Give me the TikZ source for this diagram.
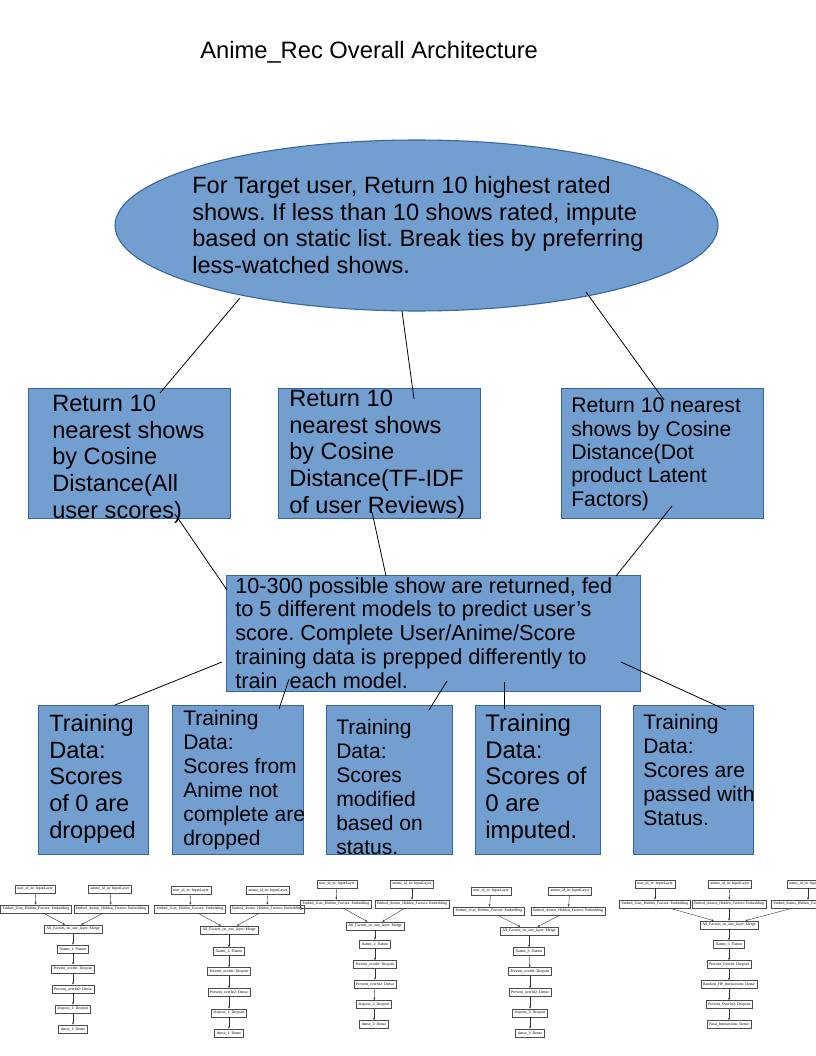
\documentclass[tikz,border=0pt]{standalone}
\usepackage{fontspec}
\setmainfont{Liberation Sans}
\newfontfamily\tinyserif{Liberation Serif}
\usetikzlibrary{shapes.geometric,arrows.meta}
\definecolor{lofill}{HTML}{729FCF}
\definecolor{loline}{HTML}{3465A4}
\frenchspacing
\tikzset{
  bluebox/.style={fill=lofill, draw=loline, line width=0.8, inner sep=0, anchor=north west},
  conn/.style={draw=black, line width=0.6},
  txt/.style={anchor=north west, inner sep=0, align=left, text=black},
  fbig/.style={font=\fontsize{17.7}{19.95}\selectfont},
  fmid/.style={font=\fontsize{15.8}{18}\selectfont},
  tbox/.style={draw=black!70, line width=0.3, inner xsep=1.6, inner ysep=0, minimum height=6.2, font=\tinyserif\fontsize{2.9}{3}\selectfont},
  tarr/.style={draw=black!80, line width=0.3, -{Stealth[length=1.8,width=1.5]}},
}
\begin{document}
\begin{tikzpicture}[x=0.75pt,y=-0.75pt]
\useasboundingbox (0,0) rectangle (816,1056);
\fill[white] (0,0) rectangle (816,1056);

% title
\node[anchor=base west, inner sep=0, font=\fontsize{17.8}{20}\selectfont] (title) at (200,58.5) {Anime\_Rec Overall Architecture};

% ellipse
\node[ellipse, fill=lofill, draw=loline, line width=0.8, minimum width=603*0.75pt, minimum height=171*0.75pt, inner sep=0] (ell) at (416.5,225.5) {};
\node[txt, fbig] (elltxt) at (192,174.9) {\strut For Target user, Return 10 highest rated\\shows. If less than 10 shows rated, impute\\based on static list. Break ties by preferring\\less-watched shows.};

% second row boxes
\node[bluebox, minimum width=202*0.75pt, minimum height=130*0.75pt] (boxA) at (28,388) {};
\node[bluebox, minimum width=202*0.75pt, minimum height=130*0.75pt] (boxB) at (278,388) {};
\node[bluebox, minimum width=202*0.75pt, minimum height=130*0.75pt] (boxC) at (561,388) {};
\node[txt, fbig] (txtA) at (52,392.9) {\strut Return 10\\nearest shows\\by Cosine\\Distance(All\\user scores)};
\node[txt, fbig] (txtB) at (289,387.9) {\strut Return 10\\nearest shows\\by Cosine\\Distance(TF-IDF\\of user Reviews)};
\node[txt, font=\fontsize{15.9}{17.5}\selectfont] (txtC) at (571,396.3) {\strut Return 10 nearest\\shows by Cosine\\Distance(Dot\\product Latent\\Factors)};

% middle box
\node[bluebox, minimum width=414*0.75pt, minimum height=116*0.75pt] (boxD) at (226,575) {};
\node[txt, font=\fontsize{16.3}{17.85}\selectfont] (txtD) at (235,576.1) {\strut 10-300 possible show are returned, fed\\to 5 different models to predict user’s\\score. Complete User/Anime/Score\\training data is prepped differently to\\train\ \ each model.};

% bottom boxes
\node[bluebox, minimum width=110*0.75pt, minimum height=149*0.75pt] (E1) at (38,705) {};
\node[bluebox, minimum width=131*0.75pt, minimum height=149*0.75pt] (E2) at (172,705) {};
\node[bluebox, minimum width=126*0.75pt, minimum height=149*0.75pt] (E3) at (326,705) {};
\node[bluebox, minimum width=125*0.75pt, minimum height=149*0.75pt] (E4) at (475,705) {};
\node[bluebox, minimum width=120*0.75pt, minimum height=149*0.75pt] (E5) at (633,705) {};
\node[txt, fbig] (tE1) at (49,712.9) {\strut Training\\Data:\\Scores\\of 0 are\\dropped};
\node[txt, fmid] (tE2) at (183,708.7) {\strut Training\\Data:\\Scores from\\Anime not\\complete are\\dropped};
\node[txt, fmid] (tE3) at (336,717.7) {\strut Training\\Data:\\Scores\\modified\\based on\\status.};
\node[txt, font=\fontsize{18}{19.95}\selectfont] (tE4) at (485,712.9) {\strut Training\\Data:\\Scores of\\0 are\\imputed.};
\node[txt, fmid] (tE5) at (643,712.7) {\strut Training\\Data:\\Scores are\\passed with\\Status.};

% connector end points
\coordinate (e1) at (240,298); \coordinate (a1) at (160,393);
\coordinate (e2) at (402,311); \coordinate (b1) at (414,399);
\coordinate (e3) at (586,292); \coordinate (c1) at (664,400);
\coordinate (a2) at (175,514); \coordinate (d1) at (227,590);
\coordinate (b2) at (372,512); \coordinate (d2) at (386,576);
\coordinate (c2) at (672,506); \coordinate (d3) at (616,576);
\coordinate (d4) at (222,662); \coordinate (f1) at (115,705);
\coordinate (d5) at (289,679); \coordinate (f2) at (279,709);
\coordinate (d6) at (447,681); \coordinate (f3) at (429,710);
\coordinate (d7) at (504,682); \coordinate (f4) at (504,709);
\coordinate (d8) at (621,662); \coordinate (f5) at (726,710);
\draw[conn] (e1) -- (a1);
\draw[conn] (e2) -- (b1);
\draw[conn] (e3) -- (c1);
\draw[conn] (a2) -- (d1);
\draw[conn] (b2) -- (d2);
\draw[conn] (c2) -- (d3);
\draw[conn] (d4) -- (f1);
\draw[conn] (d5) -- (f2);
\draw[conn] (d6) -- (f3);
\draw[conn] (d7) -- (f4);
\draw[conn] (d8) -- (f5);

% ---------- small model graphs ----------
\begin{scope}
\clip (0,0) rectangle (816,1056);
% model 1
\node[tbox] (m1ui) at (35,889) {user\_id\_in: InputLayer};
\node[tbox] (m1ai) at (110,889) {anime\_id\_in: InputLayer};
\node[tbox] (m1eu) at (36,909) {Embed\_User\_Hidden\_Factors: Embedding};
\node[tbox] (m1ea) at (111,909) {Embed\_Anime\_Hidden\_Factors: Embedding};
\node[tbox] (m1m) at (73,929) {All\_Factors\_on\_one\_layer: Merge};
\node[tbox] (m1f) at (73,949) {flatten\_1: Flatten};
\node[tbox] (m1p) at (73,969) {Prevent\_overfit: Dropout};
\node[tbox] (m1q) at (73,989) {Prevent\_overfit2: Dense};
\node[tbox] (m1d) at (73,1009) {dropout\_1: Dropout};
\node[tbox] (m1n) at (73,1029) {dense\_1: Dense};
\draw[tarr] (m1ui) -- (m1eu);
\draw[tarr] (m1ai) -- (m1ea);
\draw[tarr] (m1eu) -- (m1m);
\draw[tarr] (m1ea) -- (m1m);
\draw[tarr] (m1m) -- (m1f);
\draw[tarr] (m1f) -- (m1p);
\draw[tarr] (m1p) -- (m1q);
\draw[tarr] (m1q) -- (m1d);
\draw[tarr] (m1d) -- (m1n);
% model 2
\node[tbox] (m2ui) at (191,890.5) {user\_id\_in: InputLayer};
\node[tbox] (m2ai) at (268,890.5) {anime\_id\_in: InputLayer};
\node[tbox] (m2eu) at (190,909) {Embed\_User\_Hidden\_Factors: Embedding};
\node[tbox] (m2ea) at (267,909) {Embed\_Anime\_Hidden\_Factors: Embedding};
\node[tbox] (m2m) at (229,930) {All\_Factors\_on\_one\_layer: Merge};
\node[tbox] (m2f) at (229,951.5) {flatten\_1: Flatten};
\node[tbox] (m2p) at (229,971.5) {Prevent\_overfit: Dropout};
\node[tbox] (m2q) at (229,992.5) {Prevent\_overfit2: Dense};
\node[tbox] (m2d) at (229,1013) {dropout\_1: Dropout};
\node[tbox] (m2n) at (229,1033) {dense\_1: Dense};
\draw[tarr] (m2ui) -- (m2eu);
\draw[tarr] (m2ai) -- (m2ea);
\draw[tarr] (m2eu) -- (m2m);
\draw[tarr] (m2ea) -- (m2m);
\draw[tarr] (m2m) -- (m2f);
\draw[tarr] (m2f) -- (m2p);
\draw[tarr] (m2p) -- (m2q);
\draw[tarr] (m2q) -- (m2d);
\draw[tarr] (m2d) -- (m2n);
% model 3
\node[tbox] (m3ui) at (337,884) {user\_id\_in: InputLayer};
\node[tbox] (m3ai) at (412,884) {anime\_id\_in: InputLayer};
\node[tbox] (m3eu) at (336,904) {Embed\_User\_Hidden\_Factors: Embedding};
\node[tbox] (m3ea) at (412,904) {Embed\_Anime\_Hidden\_Factors: Embedding};
\node[tbox] (m3m) at (375,926) {All\_Factors\_on\_one\_layer: Merge};
\node[tbox] (m3f) at (375,944) {flatten\_2: Flatten};
\node[tbox] (m3p) at (375,964.5) {Prevent\_overfit: Dropout};
\node[tbox] (m3q) at (375,984) {Prevent\_overfit2: Dense};
\node[tbox] (m3d) at (374,1004.5) {dropout\_2: Dropout};
\node[tbox] (m3n) at (374,1024.5) {dense\_2: Dense};
\draw[tarr] (m3ui) -- (m3eu);
\draw[tarr] (m3ai) -- (m3ea);
\draw[tarr] (m3eu) -- (m3m);
\draw[tarr] (m3ea) -- (m3m);
\draw[tarr] (m3m) -- (m3f);
\draw[tarr] (m3f) -- (m3p);
\draw[tarr] (m3p) -- (m3q);
\draw[tarr] (m3q) -- (m3d);
\draw[tarr] (m3d) -- (m3n);
% model 4
\node[tbox] (m4ui) at (491,891) {user\_id\_in: InputLayer};
\node[tbox] (m4ai) at (570,891) {anime\_id\_in: InputLayer};
\node[tbox] (m4eu) at (489,911) {Embed\_User\_Hidden\_Factors: Embedding};
\node[tbox] (m4ea) at (568,911) {Embed\_Anime\_Hidden\_Factors: Embedding};
\node[tbox] (m4m) at (529,931) {All\_Factors\_on\_one\_layer: Merge};
\node[tbox] (m4f) at (529,951.5) {flatten\_3: Flatten};
\node[tbox] (m4p) at (530,971.5) {Prevent\_overfit: Dropout};
\node[tbox] (m4q) at (530,992.5) {Prevent\_overfit2: Dense};
\node[tbox] (m4d) at (530,1013) {dropout\_3: Dropout};
\node[tbox] (m4n) at (530,1033) {dense\_3: Dense};
\draw[tarr] (m4ui) -- (m4eu);
\draw[tarr] (m4ai) -- (m4ea);
\draw[tarr] (m4eu) -- (m4m);
\draw[tarr] (m4ea) -- (m4m);
\draw[tarr] (m4m) -- (m4f);
\draw[tarr] (m4f) -- (m4p);
\draw[tarr] (m4p) -- (m4q);
\draw[tarr] (m4q) -- (m4d);
\draw[tarr] (m4d) -- (m4n);
% model 5
\node[tbox] (m5ui) at (655,884) {user\_id\_in: InputLayer};
\node[tbox] (m5ai) at (730,884) {anime\_id\_in: InputLayer};
\node[tbox] (m5si) at (808,884) {status\_id\_in: InputLayer};
\node[tbox] (m5eu) at (655,904) {Embed\_User\_Hidden\_Factors: Embedding};
\node[tbox] (m5ea) at (729,904) {Embed\_Anime\_Hidden\_Factors: Embedding};
\node[tbox] (m5es) at (808,904) {Embed\_Status\_Hidden\_Factors: Embedding};
\node[tbox] (m5m) at (729,925) {All\_Factors\_on\_one\_layer: Merge};
\node[tbox] (m5f) at (729,944.5) {flatten\_5: Flatten};
\node[tbox] (m5p) at (729,964.5) {Prevent\_Overfit: Dropout};
\node[tbox] (m5r) at (729,984.5) {Random\_HP\_Interactions: Dense};
\node[tbox] (m5q) at (729,1004.5) {Prevent\_Overfit2: Dropout};
\node[tbox] (m5n) at (729,1024.5) {Final\_Interactions: Dense};
\draw[tarr] (m5ui) -- (m5eu);
\draw[tarr] (m5ai) -- (m5ea);
\draw[tarr] (m5si) -- (m5es);
\draw[tarr] (m5eu) -- (m5m);
\draw[tarr] (m5ea) -- (m5m);
\draw[tarr] (m5es) -- (m5m);
\draw[tarr] (m5m) -- (m5f);
\draw[tarr] (m5f) -- (m5p);
\draw[tarr] (m5p) -- (m5r);
\draw[tarr] (m5r) -- (m5q);
\draw[tarr] (m5q) -- (m5n);
\end{scope}
\end{tikzpicture}
\end{document}
